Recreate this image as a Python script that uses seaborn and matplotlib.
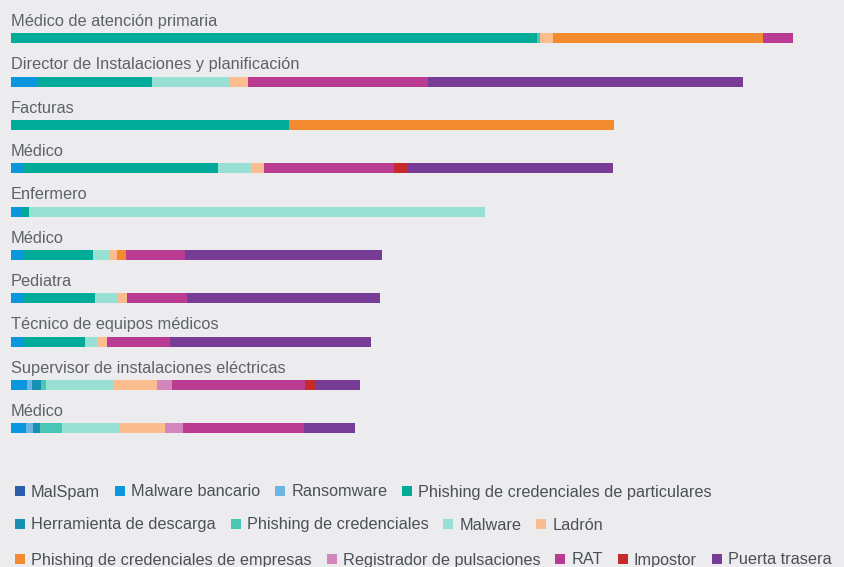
import matplotlib
matplotlib.use("Agg")
import matplotlib.pyplot as plt
from matplotlib.patches import Rectangle
import numpy as np
import pandas as pd
import seaborn as sns

# ---------------- data ----------------
roles = ["Médico de atención primaria",
         "Director de Instalaciones y planificación",
         "Facturas",
         "Médico",
         "Enfermero",
         "Médico",
         "Pediatra",
         "Técnico de equipos médicos",
         "Supervisor de instalaciones eléctricas",
         "Médico"]

categories = ["MalSpam", "Malware bancario", "Ransomware",
              "Phishing de credenciales de particulares",
              "Herramienta de descarga", "Phishing de credenciales", "Malware",
              "Ladrón", "Phishing de credenciales de empresas",
              "Registrador de pulsaciones", "RAT", "Impostor", "Puerta trasera"]

malspam     = [0, 0, 0, 0, 0, 0, 0, 0, 0, 0]
bancario    = [0, 27, 0, 13, 10, 12, 12, 12, 16, 15]
ransomware  = [0, 0, 0, 0, 0, 0, 0, 0, 5, 7]
phish_part  = [526, 114, 278, 194, 8, 70, 72, 62, 0, 0]
herramienta = [0, 0, 0, 0, 0, 0, 0, 0, 9, 7]
phish_cred  = [3, 0, 0, 0, 0, 0, 0, 0, 5, 22]
malware     = [0, 77, 0, 33, 456, 16, 23, 12, 68, 58]
ladron      = [13, 19, 0, 13, 0, 8, 9, 10, 43, 45]
phish_emp   = [210, 0, 325, 0, 0, 9, 0, 0, 0, 0]
registrador = [0, 0, 0, 0, 0, 0, 0, 0, 15, 18]
rat         = [30, 180, 0, 130, 0, 59, 60, 63, 133, 121]
impostor    = [0, 0, 0, 13, 0, 0, 0, 0, 11, 0]
puerta      = [0, 315, 0, 206, 0, 197, 193, 201, 44, 51]

series = [malspam, bancario, ransomware, phish_part, herramienta, phish_cred,
          malware, ladron, phish_emp, registrador, rat, impostor, puerta]

colors = ["#2a5ea8", "#0a96dc", "#6cb4e4", "#00ab97", "#1890b4", "#4cc6b4",
          "#98dfd4", "#fbbd8e", "#f28a30", "#d386bd", "#ba3b92", "#c62b2b",
          "#773d96"]

legend_rows = [[0, 1, 2, 3], [4, 5, 6, 7], [8, 9, 10, 11, 12]]

# ---------------- style ----------------
BG = "#ececee"
TXT = "#5d626a"
sns.set_theme(style="white")
plt.rcParams["font.family"] = ["Liberation Sans", "DejaVu Sans"]

W, H = 845, 567
fig = plt.figure(figsize=(W / 100, H / 100), dpi=100, facecolor=BG)

# bar area: top 0px .. bottom 460px
row_px0, row_step = 38.5, 43.3
ax_bottom_px = 460
ax = fig.add_axes([0, 1 - ax_bottom_px / H, 1, ax_bottom_px / H])
ax.set_facecolor(BG)

df = pd.DataFrame({c: s for c, s in zip(categories, series)})
df["row"] = range(len(roles))
cum = df[categories].cumsum(axis=1)

# draw cumulative bars from the largest down so each layer stays visible
for i in range(len(categories) - 1, -1, -1):
    sns.barplot(x=cum[categories[i]], y=df["row"], orient="h",
                color=colors[i], width=10 / row_step, linewidth=0,
                saturation=1, ax=ax)

ax.set_xlim(-11, W - 11)
ax.set_ylim((ax_bottom_px - row_px0) / row_step, -row_px0 / row_step)
ax.set_axis_off()

for k, r in enumerate(roles):
    ax.text(0, k - 12.3 / row_step, r, ha="left", va="baseline",
            fontsize=11.8, color=TXT)

# ---------------- legend (flow layout) ----------------
lax = fig.add_axes([0, 0, 1, 1])
lax.set_xlim(0, W)
lax.set_ylim(H, 0)
lax.set_axis_off()
lax.patch.set_alpha(0)

renderer = fig.canvas.get_renderer()
row_y = [491, 524, 559]
for ry, items in zip(row_y, legend_rows):
    x = 15
    for idx in items:
        lax.add_patch(Rectangle((x, ry - 5), 10, 10, color=colors[idx], lw=0))
        t = lax.text(x + 16, ry + 5.5, categories[idx], ha="left",
                     va="baseline", fontsize=11.7, color="#4a4f58")
        wpx = t.get_window_extent(renderer).width
        x = x + 16 + wpx + 15

fig.savefig("out.png", dpi=100, facecolor=BG)
